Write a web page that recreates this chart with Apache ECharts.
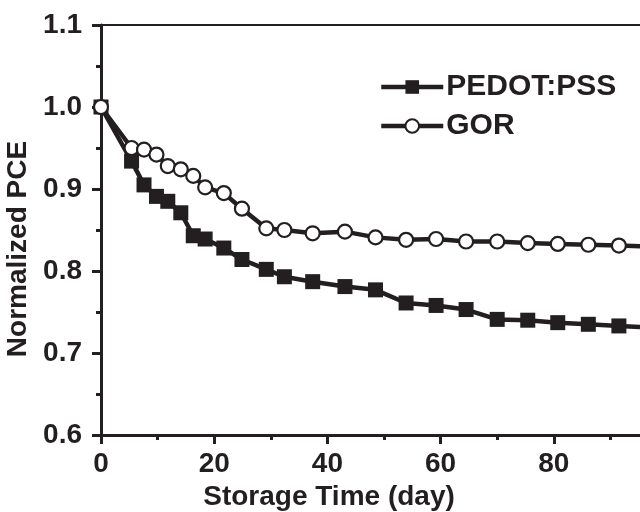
<!DOCTYPE html>
<html>
<head>
<meta charset="utf-8">
<script src="https://cdn.jsdelivr.net/npm/echarts@6/dist/echarts.min.js"></script>
<style>
html,body{margin:0;padding:0;background:#fff;}
#chart{width:640px;height:512px;}
</style>
</head>
<body>
<div id="chart"></div>
<script>
// Storage days
var days = [0, 5.4, 7.6, 9.8, 11.8, 14.1, 16.3, 18.4, 21.7, 24.9, 29.2, 32.4, 37.4, 43.1, 48.5, 53.9, 59.2, 64.5, 70.0, 75.4, 80.7, 86.1, 91.5, 96.8];
var pedotPss = [1.0, 0.934, 0.905, 0.891, 0.885, 0.871, 0.843, 0.839, 0.828, 0.814, 0.802, 0.793, 0.787, 0.781, 0.777, 0.761, 0.758, 0.753, 0.741, 0.740, 0.737, 0.735, 0.733, 0.731];
var gor = [1.0, 0.950, 0.948, 0.942, 0.928, 0.924, 0.916, 0.902, 0.895, 0.876, 0.852, 0.850, 0.846, 0.848, 0.841, 0.838, 0.839, 0.836, 0.836, 0.834, 0.833, 0.832, 0.831, 0.830];
var seriesNames = ['PEDOT:PSS', 'GOR'];
var xTitle = 'Storage Time (day)';
var yTitle = 'Normalized PCE';

function pairs(xs, ys) { return xs.map(function (x, i) { return [x, ys[i]]; }); }

var ink = '#231f20';
var font = '"Liberation Sans", Arial, Helvetica, sans-serif';

var chart = echarts.init(document.getElementById('chart'), null, {renderer: 'canvas'});
chart.setOption({
  backgroundColor: '#fff',
  animation: false,
  textStyle: {fontFamily: font, color: ink},
  grid: {left: 101, top: 25, right: -27, bottom: 77, containLabel: false, outerBoundsMode: 'none'},
  legend: {
    left: 374, top: 67, orient: 'vertical',
    itemWidth: 62, itemHeight: 17, itemGap: 9,
    lineStyle: {width: 4.5, color: ink},
    textStyle: {fontSize: 30, fontWeight: 'bold', color: ink, fontFamily: font, padding: [0, 0, 0, -2]},
    data: seriesNames
  },
  xAxis: [{
    type: 'value', min: 0, max: 100, interval: 20,
    name: xTitle, nameLocation: 'middle', nameGap: 46,
    nameTextStyle: {fontSize: 28, fontWeight: 'bold', color: ink, fontFamily: font, padding: [0, 110, 0, 0]},
    axisLine: {show: true, onZero: false, lineStyle: {color: ink, width: 3}},
    axisTick: {show: true, inside: false, length: 9, lineStyle: {color: ink, width: 3}},
    minorTick: {show: true, splitNumber: 2, length: 5, lineStyle: {color: ink, width: 3}},
    axisLabel: {fontSize: 28, fontWeight: 'bold', color: ink, fontFamily: font, margin: 15, showMaxLabel: false},
    splitLine: {show: false}
  }, {
    type: 'value', position: 'top', min: 0, max: 100,
    axisLine: {show: true, onZero: false, lineStyle: {color: ink, width: 2}},
    axisTick: {show: false}, axisLabel: {show: false}, splitLine: {show: false}
  }],
  yAxis: {
    type: 'value', min: 0.6, max: 1.1, interval: 0.1,
    name: yTitle, nameLocation: 'middle', nameGap: 62, nameRotate: 90,
    nameTextStyle: {fontSize: 28, fontWeight: 'bold', color: ink, fontFamily: font, padding: [0, 38, 0, 0]},
    axisLine: {show: true, onZero: false, lineStyle: {color: ink, width: 3}},
    axisTick: {show: true, inside: false, length: 9, lineStyle: {color: ink, width: 3}},
    minorTick: {show: true, splitNumber: 2, length: 5, lineStyle: {color: ink, width: 3}},
    axisLabel: {fontSize: 28, fontWeight: 'bold', color: ink, fontFamily: font, margin: 19,
      formatter: function (v) { return v.toFixed(1); }},
    splitLine: {show: false}
  },
  series: [{
    name: seriesNames[0], type: 'line', data: pairs(days, pedotPss),
    symbol: 'rect', symbolSize: 15, showAllSymbol: true,
    lineStyle: {color: ink, width: 4.5},
    itemStyle: {color: ink, borderColor: ink, borderWidth: 0},
    clip: true, z: 2
  }, {
    name: seriesNames[1], type: 'line', data: pairs(days, gor),
    symbol: 'circle', symbolSize: 14, showAllSymbol: true,
    lineStyle: {color: ink, width: 4.5},
    itemStyle: {color: '#fff', borderColor: ink, borderWidth: 2.2},
    clip: true, z: 3
  }]
});
</script>
</body>
</html>
